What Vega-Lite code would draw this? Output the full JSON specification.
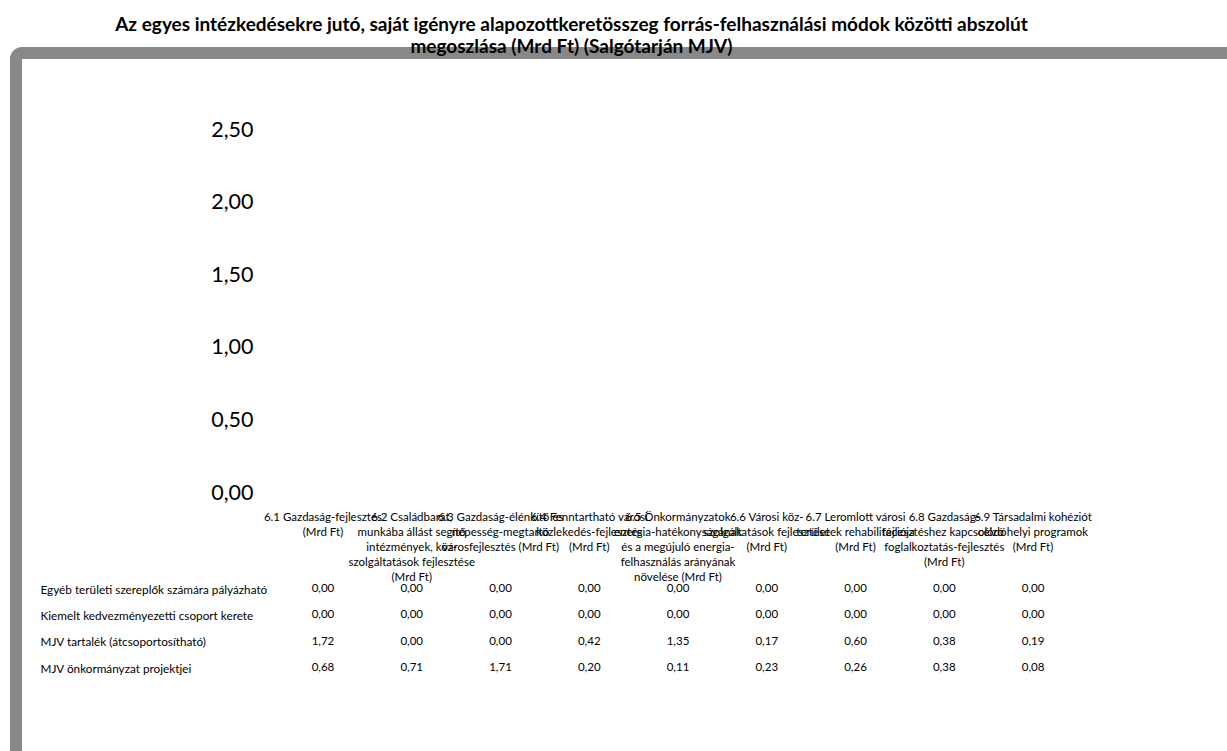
{
  "$schema": "https://vega.github.io/schema/vega-lite/v6.json",
  "autosize": {"type": "none"},
  "padding": {"left": 16, "top": 53, "right": -10, "bottom": -10},
  "width": 1221,
  "height": 708,
  "background": "white",
  "title": {
    "text": ["Az egyes intézkedésekre jutó, saját igényre alapozottkeretösszeg forrás-felhasználási módok közötti abszolút", "megoszlása (Mrd Ft) (Salgótarján MJV)"],
    "font": "Lato",
    "fontSize": 19,
    "fontWeight": "bold",
    "color": "black",
    "lineHeight": 22,
    "baseline": "alphabetic",
    "anchor": "middle",
    "offset": -2,
    "dx": -55,
    "dy": 23,
    "zindex": -1
  },
  "datasets": {
    "tabla": [
      {"intezkedes": "6.1 Gazdaság-fejlesztés\n(Mrd Ft)", "forras": "Egyéb területi szereplők számára pályázható", "ertek": 0},
      {"intezkedes": "6.1 Gazdaság-fejlesztés\n(Mrd Ft)", "forras": "Kiemelt kedvezményezetti csoport kerete", "ertek": 0},
      {"intezkedes": "6.1 Gazdaság-fejlesztés\n(Mrd Ft)", "forras": "MJV tartalék (átcsoportosítható)", "ertek": 1.72},
      {"intezkedes": "6.1 Gazdaság-fejlesztés\n(Mrd Ft)", "forras": "MJV önkormányzat projektjei", "ertek": 0.68},
      {"intezkedes": "6.2 Családbarát,\nmunkába állást segítő\nintézmények, köz-\nszolgáltatások fejlesztése\n(Mrd Ft)", "forras": "Egyéb területi szereplők számára pályázható", "ertek": 0},
      {"intezkedes": "6.2 Családbarát,\nmunkába állást segítő\nintézmények, köz-\nszolgáltatások fejlesztése\n(Mrd Ft)", "forras": "Kiemelt kedvezményezetti csoport kerete", "ertek": 0},
      {"intezkedes": "6.2 Családbarát,\nmunkába állást segítő\nintézmények, köz-\nszolgáltatások fejlesztése\n(Mrd Ft)", "forras": "MJV tartalék (átcsoportosítható)", "ertek": 0},
      {"intezkedes": "6.2 Családbarát,\nmunkába állást segítő\nintézmények, köz-\nszolgáltatások fejlesztése\n(Mrd Ft)", "forras": "MJV önkormányzat projektjei", "ertek": 0.71},
      {"intezkedes": "6.3 Gazdaság-élénkítő és\nnépesség-megtartó\nvárosfejlesztés (Mrd Ft)", "forras": "Egyéb területi szereplők számára pályázható", "ertek": 0},
      {"intezkedes": "6.3 Gazdaság-élénkítő és\nnépesség-megtartó\nvárosfejlesztés (Mrd Ft)", "forras": "Kiemelt kedvezményezetti csoport kerete", "ertek": 0},
      {"intezkedes": "6.3 Gazdaság-élénkítő és\nnépesség-megtartó\nvárosfejlesztés (Mrd Ft)", "forras": "MJV tartalék (átcsoportosítható)", "ertek": 0},
      {"intezkedes": "6.3 Gazdaság-élénkítő és\nnépesség-megtartó\nvárosfejlesztés (Mrd Ft)", "forras": "MJV önkormányzat projektjei", "ertek": 1.71},
      {"intezkedes": "6.4 Fenntartható városi\nközlekedés-fejlesztés\n(Mrd Ft)", "forras": "Egyéb területi szereplők számára pályázható", "ertek": 0},
      {"intezkedes": "6.4 Fenntartható városi\nközlekedés-fejlesztés\n(Mrd Ft)", "forras": "Kiemelt kedvezményezetti csoport kerete", "ertek": 0},
      {"intezkedes": "6.4 Fenntartható városi\nközlekedés-fejlesztés\n(Mrd Ft)", "forras": "MJV tartalék (átcsoportosítható)", "ertek": 0.42},
      {"intezkedes": "6.4 Fenntartható városi\nközlekedés-fejlesztés\n(Mrd Ft)", "forras": "MJV önkormányzat projektjei", "ertek": 0.20},
      {"intezkedes": "6.5 Önkormányzatok\nenergia-hatékonyságának\nés a megújuló energia-\nfelhasználás arányának\nnövelése (Mrd Ft)", "forras": "Egyéb területi szereplők számára pályázható", "ertek": 0},
      {"intezkedes": "6.5 Önkormányzatok\nenergia-hatékonyságának\nés a megújuló energia-\nfelhasználás arányának\nnövelése (Mrd Ft)", "forras": "Kiemelt kedvezményezetti csoport kerete", "ertek": 0},
      {"intezkedes": "6.5 Önkormányzatok\nenergia-hatékonyságának\nés a megújuló energia-\nfelhasználás arányának\nnövelése (Mrd Ft)", "forras": "MJV tartalék (átcsoportosítható)", "ertek": 1.35},
      {"intezkedes": "6.5 Önkormányzatok\nenergia-hatékonyságának\nés a megújuló energia-\nfelhasználás arányának\nnövelése (Mrd Ft)", "forras": "MJV önkormányzat projektjei", "ertek": 0.11},
      {"intezkedes": "6.6 Városi köz-\nszolgáltatások fejlesztése\n(Mrd Ft)", "forras": "Egyéb területi szereplők számára pályázható", "ertek": 0},
      {"intezkedes": "6.6 Városi köz-\nszolgáltatások fejlesztése\n(Mrd Ft)", "forras": "Kiemelt kedvezményezetti csoport kerete", "ertek": 0},
      {"intezkedes": "6.6 Városi köz-\nszolgáltatások fejlesztése\n(Mrd Ft)", "forras": "MJV tartalék (átcsoportosítható)", "ertek": 0.17},
      {"intezkedes": "6.6 Városi köz-\nszolgáltatások fejlesztése\n(Mrd Ft)", "forras": "MJV önkormányzat projektjei", "ertek": 0.23},
      {"intezkedes": "6.7 Leromlott városi\nterületek rehabilitációja\n(Mrd Ft)", "forras": "Egyéb területi szereplők számára pályázható", "ertek": 0},
      {"intezkedes": "6.7 Leromlott városi\nterületek rehabilitációja\n(Mrd Ft)", "forras": "Kiemelt kedvezményezetti csoport kerete", "ertek": 0},
      {"intezkedes": "6.7 Leromlott városi\nterületek rehabilitációja\n(Mrd Ft)", "forras": "MJV tartalék (átcsoportosítható)", "ertek": 0.60},
      {"intezkedes": "6.7 Leromlott városi\nterületek rehabilitációja\n(Mrd Ft)", "forras": "MJV önkormányzat projektjei", "ertek": 0.26},
      {"intezkedes": "6.8 Gazdaság-\nfejlesztéshez kapcsolódó\nfoglalkoztatás-fejlesztés\n(Mrd Ft)", "forras": "Egyéb területi szereplők számára pályázható", "ertek": 0},
      {"intezkedes": "6.8 Gazdaság-\nfejlesztéshez kapcsolódó\nfoglalkoztatás-fejlesztés\n(Mrd Ft)", "forras": "Kiemelt kedvezményezetti csoport kerete", "ertek": 0},
      {"intezkedes": "6.8 Gazdaság-\nfejlesztéshez kapcsolódó\nfoglalkoztatás-fejlesztés\n(Mrd Ft)", "forras": "MJV tartalék (átcsoportosítható)", "ertek": 0.38},
      {"intezkedes": "6.8 Gazdaság-\nfejlesztéshez kapcsolódó\nfoglalkoztatás-fejlesztés\n(Mrd Ft)", "forras": "MJV önkormányzat projektjei", "ertek": 0.38},
      {"intezkedes": "6.9 Társadalmi kohéziót\ncélzó helyi programok\n(Mrd Ft)", "forras": "Egyéb területi szereplők számára pályázható", "ertek": 0},
      {"intezkedes": "6.9 Társadalmi kohéziót\ncélzó helyi programok\n(Mrd Ft)", "forras": "Kiemelt kedvezményezetti csoport kerete", "ertek": 0},
      {"intezkedes": "6.9 Társadalmi kohéziót\ncélzó helyi programok\n(Mrd Ft)", "forras": "MJV tartalék (átcsoportosítható)", "ertek": 0.19},
      {"intezkedes": "6.9 Társadalmi kohéziót\ncélzó helyi programok\n(Mrd Ft)", "forras": "MJV önkormányzat projektjei", "ertek": 0.08}
    ],
    "keret": [{"elem": "diagramterület"}]
  },
  "layer": [
    {
      "data": {"name": "tabla"},
      "mark": {"type": "bar", "opacity": 0},
      "encoding": {
        "x": {
          "field": "intezkedes",
          "type": "nominal",
          "sort": null,
          "scale": {"type": "band", "range": [262.6, 1061.4], "paddingInner": 0, "paddingOuter": 0},
          "axis": {
            "orient": "bottom",
            "offset": -250,
            "title": null,
            "domain": false,
            "ticks": false,
            "labelPadding": 0,
            "labelAngle": 0,
            "labelAlign": "center",
            "labelBaseline": "top",
            "labelFont": "Lato",
            "labelFontSize": 11.5,
            "labelLineHeight": 15,
            "labelColor": "black",
            "labelOverlap": false,
            "labelBound": false,
            "labelFlush": false,
            "labelLimit": 0,
            "labelExpr": "split(datum.label, '\\n')"
          }
        },
        "y": {
          "aggregate": "sum",
          "field": "ertek",
          "type": "quantitative",
          "scale": {"domain": [0, 2.5], "range": [440, 77], "nice": false, "zero": true},
          "axis": {
            "orient": "left",
            "offset": -237,
            "title": null,
            "values": [0, 0.5, 1, 1.5, 2, 2.5],
            "format": ".2f",
            "domain": false,
            "ticks": false,
            "tickSize": 0,
            "grid": false,
            "labelPadding": 0,
            "labelFont": "Lato",
            "labelFontSize": 21.5,
            "labelColor": "black",
            "labelBaseline": "middle"
          }
        }
      }
    },
    {
      "data": {"name": "tabla"},
      "mark": {"type": "text", "font": "Lato", "fontSize": 11.5, "color": "black", "baseline": "middle", "align": "center"},
      "encoding": {
        "x": {"field": "intezkedes", "type": "nominal", "sort": null},
        "y": {
          "field": "forras",
          "type": "nominal",
          "scale": {
            "type": "point",
            "domain": ["Egyéb területi szereplők számára pályázható", "Kiemelt kedvezményezetti csoport kerete", "MJV tartalék (átcsoportosítható)", "MJV önkormányzat projektjei"],
            "range": [536, 615],
            "padding": 0
          },
          "axis": {
            "orient": "left",
            "offset": -24,
            "title": null,
            "domain": false,
            "ticks": false,
            "tickSize": 0,
            "grid": false,
            "labelPadding": 0,
            "labelAlign": "left",
            "labelBaseline": "middle",
            "labelFont": "Lato",
            "labelFontSize": 11.75,
            "labelColor": "black",
            "labelLimit": 0,
            "labelOverlap": false,
            "labelBound": false
          }
        },
        "text": {"field": "ertek", "type": "quantitative", "format": ".2f"}
      }
    },
    {
      "data": {"name": "keret"},
      "mark": {"type": "rect", "filled": false, "stroke": "#888888", "strokeWidth": 12, "cornerRadius": 6},
      "encoding": {}
    }
  ],
  "resolve": {"scale": {"y": "independent"}, "axis": {"y": "independent"}},
  "config": {
    "font": "Lato",
    "locale": {"number": {"decimal": ",", "thousands": " ", "grouping": [3], "currency": ["", " Ft"]}},
    "view": {"stroke": null, "fill": "white"}
  }
}
